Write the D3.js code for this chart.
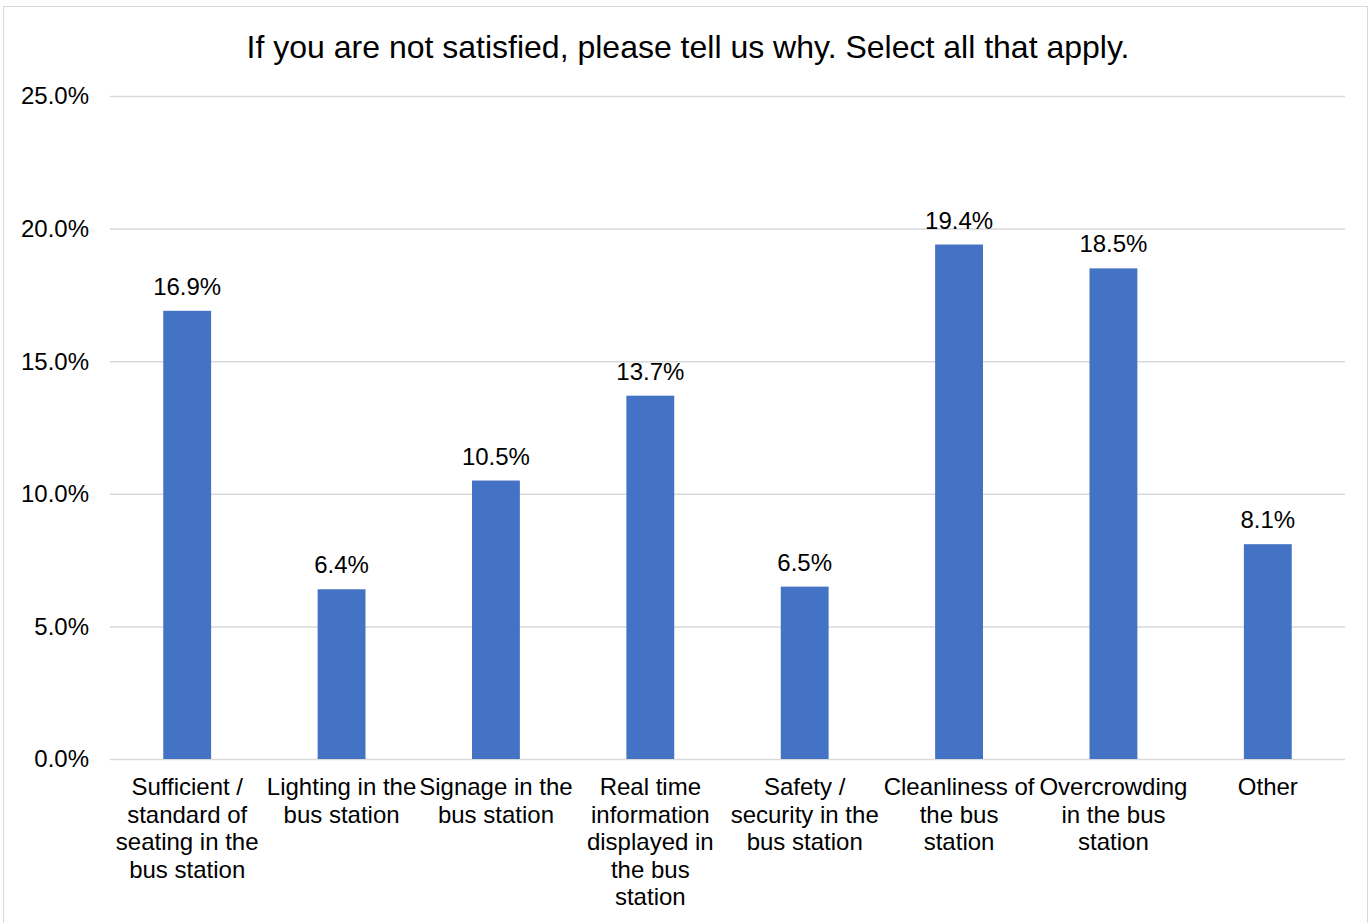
<!DOCTYPE html>
<meta charset="utf-8">
<style>
body { margin: 0; background: #fff; }
text { font-family: "Liberation Sans", Arial, sans-serif; fill: #000; }
.grid line { stroke: #d9d9d9; stroke-width: 1.5px; }
.grid .domain { display: none; }
</style>
<svg width="1371" height="923"></svg>
<script src="https://d3js.org/d3.v7.min.js"></script>
<script>

var categories = [
  "Sufficient / standard of seating in the bus station",
  "Lighting in the bus station",
  "Signage in the bus station",
  "Real time information displayed in the bus station",
  "Safety / security in the bus station",
  "Cleanliness of the bus station",
  "Overcrowding in the bus station",
  "Other"
];
var values = [16.9, 6.4, 10.5, 13.7, 6.5, 19.4, 18.5, 8.1];
var yTicks = [0, 5, 10, 15, 20, 25];
var title = "If you are not satisfied, please tell us why. Select all that apply.";

var svg = d3.select("svg"),
    width = +svg.attr("width"),
    height = +svg.attr("height");

var margin = {left: 110, right: 26, top: 96, bottom: 164};

svg.append("rect")
    .attr("x", 3.5).attr("y", 6.5)
    .attr("width", 1364).attr("height", 930)
    .attr("fill", "none")
    .attr("stroke", "#d9d9d9");

var x = d3.scaleBand()
    .domain(categories)
    .range([margin.left, width - margin.right])
    .paddingInner(0.69)
    .paddingOuter(0.345);

var y = d3.scaleLinear()
    .domain([0, 25])
    .range([height - margin.bottom, margin.top]);

// gridlines
svg.append("g")
    .attr("class", "grid")
    .attr("transform", "translate(" + margin.left + ",0)")
    .call(d3.axisLeft(y).tickValues(yTicks)
      .tickSize(-(width - margin.left - margin.right))
      .tickFormat(""));

// y labels
svg.append("g").selectAll("text")
    .data(yTicks)
    .enter().append("text")
    .attr("x", 89)
    .attr("y", function(d) { return y(d); })
    .attr("dy", "0.35em")
    .attr("text-anchor", "end")
    .style("font-size", "24px")
    .text(function(d) { return d.toFixed(1) + "%"; });

// bars
svg.append("g").selectAll("rect")
    .data(values)
    .enter().append("rect")
    .attr("x", function(d, i) { return x(categories[i]); })
    .attr("width", x.bandwidth())
    .attr("y", function(d) { return y(d); })
    .attr("height", function(d) { return y(0) - y(d); })
    .attr("fill", "#4472c4");

// value labels
svg.append("g").selectAll("text")
    .data(values)
    .enter().append("text")
    .attr("x", function(d, i) { return x(categories[i]) + x.bandwidth() / 2; })
    .attr("y", function(d) { return y(d) - 16; })
    .attr("text-anchor", "middle")
    .style("font-size", "24px")
    .text(function(d) { return d.toFixed(1) + "%"; });

// category labels, wrapped to the band step
var step = x.step();
svg.append("g").selectAll("text")
    .data(categories)
    .enter().append("text")
    .attr("text-anchor", "middle")
    .style("font-size", "24px")
    .attr("transform", function(d) {
      return "translate(" + (x(d) + x.bandwidth() / 2) + "," + (y(0) + 36) + ")";
    })
    .each(function(d) { wrap(d3.select(this), d, step); });

function wrap(text, str, maxW) {
  var words = str.split(" "), line = [], lineNo = 0;
  var tspan = text.append("tspan").attr("x", 0).attr("y", 0);
  words.forEach(function(w) {
    line.push(w);
    tspan.text(line.join(" "));
    if (tspan.node().getComputedTextLength() > maxW && line.length > 1) {
      line.pop();
      tspan.text(line.join(" "));
      line = [w];
      lineNo++;
      tspan = text.append("tspan").attr("x", 0).attr("y", lineNo * 27.5).text(w);
    }
  });
}

svg.append("text")
    .attr("x", 688)
    .attr("y", 58)
    .attr("text-anchor", "middle")
    .style("font-size", "32px")
    .text(title);

</script>
